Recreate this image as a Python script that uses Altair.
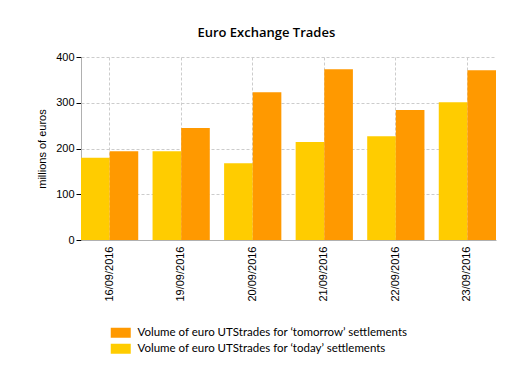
import altair as alt
import pandas as pd

dates = ["16/09/2016", "19/09/2016", "20/09/2016", "21/09/2016", "22/09/2016", "23/09/2016"]
today_vals = [180, 194, 168, 214, 227, 301]
tomorrow_vals = [194, 245, 323, 373, 284, 371]

S_TOM = "Volume of euro UTStrades for ‘tomorrow’ settlements"
S_TOD = "Volume of euro UTStrades for ‘today’ settlements"

rows = []
for d, a, b in zip(dates, today_vals, tomorrow_vals):
    rows.append({"date": d, "series": S_TOD, "value": a})
    rows.append({"date": d, "series": S_TOM, "value": b})
df = pd.DataFrame(rows)

chart = alt.Chart(df).mark_bar().encode(
    x=alt.X("date:N", sort=dates, title=None,
            scale=alt.Scale(paddingInner=0.2, paddingOuter=0),
            axis=alt.Axis(labelAngle=-90, grid=True, gridDash=[3, 2], gridColor="#cccccc",
                          ticks=False, domainColor="#b0b0b0", labelFont="Liberation Sans",
                          labelFontSize=11, labelColor="#000000", labelPadding=6)),
    xOffset=alt.XOffset("series:N", sort=[S_TOD, S_TOM]),
    y=alt.Y("value:Q", title="millions of euros",
            scale=alt.Scale(domain=[0, 400]),
            axis=alt.Axis(values=[0, 100, 200, 300, 400], gridDash=[3, 2], gridColor="#cccccc",
                          domainColor="#b0b0b0", tickColor="#000000", tickSize=5,
                          labelFont="Liberation Sans", labelFontSize=11, labelColor="#000000",
                          titleFont="Liberation Sans", titleFontSize=11, titleFontWeight="normal",
                          titleColor="#000000", titlePadding=8)),
    color=alt.Color("series:N",
                    scale=alt.Scale(domain=[S_TOM, S_TOD], range=["#FF9900", "#FFCC00"]),
                    legend=alt.Legend(title=None, orient="none", legendX=34, legendY=270,
                                      symbolType="M-2,-1H2V1H-2Z", symbolSize=100,
                                      symbolStrokeWidth=0, symbolOpacity=1,
                                      labelFont="Lato", labelFontSize=11.5, labelColor="#000000",
                                      labelOffset=11, labelLimit=0, rowPadding=3)),
).properties(
    width=415, height=183,
    title=alt.Title("Euro Exchange Trades", font="Open Sans", fontSize=13, fontWeight=600,
                    color="#000000", offset=11, frame="bounds"),
    padding={"left": 28, "top": 19, "right": 10, "bottom": 10},
).configure_view(stroke=None)

chart.save("out.html", embed_options={"renderer": "svg", "actions": False})
